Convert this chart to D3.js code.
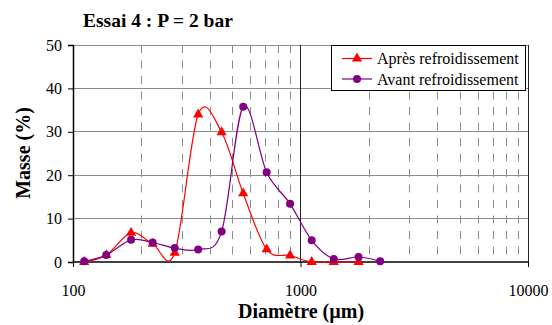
<!DOCTYPE html>
<html><head><meta charset="utf-8">
<script src="https://cdn.jsdelivr.net/npm/d3@7/dist/d3.min.js"></script>
<style>body{margin:0;background:#fff}svg{display:block}</style>
</head><body>
<svg id="c" width="552" height="325"></svg>
<script>
const title = "Essai 4 : P = 2 bar";
const xLabel = "Diamètre (µm)";
const yLabel = "Masse (%)";
const diameters = [112, 140, 180, 224, 280, 355, 450, 560, 710, 900, 1120, 1400, 1800, 2240];
const apres = [0, 1.6, 6.7, 4.2, 2.1, 34.0, 29.9, 15.8, 2.9, 1.5, 0, 0, 0];
const avant = [0.15, 1.6, 5.1, 4.5, 3.2, 2.9, 7.0, 35.8, 20.7, 13.4, 5.0, 0.7, 1.15, 0.15];
const seriesNames = ["Après refroidissement", "Avant refroidissement"];
const xTicks = [100, 1000, 10000];
const yTicks = [0, 10, 20, 30, 40, 50];
const minorX = [200,300,400,500,600,700,800,900,2000,3000,4000,5000,6000,7000,8000,9000];

const svg = d3.select("#c");
const font = "'Liberation Serif','Times New Roman',serif";
const x = d3.scaleLog().domain([100, 10000]).range([73, 528]);
const y = d3.scaleLinear().domain([0, 50]).range([262, 45]);

// horizontal gridlines
svg.append("g").selectAll("line").data(yTicks.filter(d => d > 0)).join("line")
  .attr("x1", x(100)).attr("x2", x(10000))
  .attr("y1", d => y(d)).attr("y2", d => y(d))
  .attr("stroke", "#8c8c8c").attr("stroke-width", 1).attr("shape-rendering", "crispEdges");
// minor vertical dashed
svg.append("g").selectAll("line").data(minorX).join("line")
  .attr("x1", d => Math.round(x(d)) + 0.5).attr("x2", d => Math.round(x(d)) + 0.5)
  .attr("y1", y(50)).attr("y2", y(0))
  .attr("stroke", "#8c8c8c").attr("stroke-width", 1).attr("stroke-dasharray", "8,7.5");
// major vertical
svg.append("g").selectAll("line").data(xTicks.filter(d => d > 100)).join("line")
  .attr("x1", d => Math.round(x(d)) + 0.5).attr("x2", d => Math.round(x(d)) + 0.5)
  .attr("y1", y(50)).attr("y2", y(0))
  .attr("stroke", "#222").attr("stroke-width", 1);

// axes
const xAxis = svg.append("g").attr("transform", `translate(0,${y(0)})`)
  .call(d3.axisBottom(x).tickValues(xTicks).tickFormat(d3.format("d")).tickSize(5).tickPadding(18));
const yAxis = svg.append("g").attr("transform", `translate(${x(100)},0)`)
  .call(d3.axisLeft(y).tickValues(yTicks).tickSize(5).tickPadding(6));
[xAxis, yAxis].forEach(a => {
  a.select(".domain").attr("stroke", "#000").attr("stroke-width", 1.5);
  a.selectAll(".tick line").attr("stroke", "#000");
  a.selectAll("text").attr("font-family", font).attr("font-size", 16).attr("fill", "#000");
});
xAxis.select(".domain").attr("d", `M${x(100)},0H${x(10000)}`);

// series
const curve = d3.curveCardinal.tension(0);
const ptsA = apres.map((v, i) => [diameters[i], v]);
const ptsV = avant.map((v, i) => [diameters[i], v]);
const line = d3.line().x(d => x(d[0])).y(d => y(d[1])).curve(curve);
svg.append("path").attr("d", line(ptsA)).attr("fill", "none").attr("stroke", "#ff0000").attr("stroke-width", 1.2);
svg.append("path").attr("d", line(ptsV)).attr("fill", "none").attr("stroke", "#800080").attr("stroke-width", 1.2);
const tri = d3.symbol().type(d3.symbolTriangle).size(45);
svg.append("g").selectAll("path").data(ptsA).join("path")
  .attr("d", tri).attr("transform", d => `translate(${x(d[0])},${y(d[1])})`).attr("fill", "#ff0000");
svg.append("g").selectAll("circle").data(ptsV).join("circle")
  .attr("cx", d => x(d[0])).attr("cy", d => y(d[1])).attr("r", 4).attr("fill", "#800080");

// legend
const lg = svg.append("g");
lg.append("rect").attr("x", 331.5).attr("y", 45.5).attr("width", 194).attr("height", 45)
  .attr("fill", "#fff").attr("stroke", "#000").attr("stroke-width", 1);
const colors = ["#ff0000", "#800080"];
seriesNames.forEach((n, i) => {
  const yy = 58.5 + i * 20.5;
  lg.append("line").attr("x1", 342).attr("x2", 372).attr("y1", yy).attr("y2", yy).attr("stroke", colors[i]).attr("stroke-width", 1.2);
  if (i === 0) lg.append("path").attr("d", tri).attr("transform", `translate(357,${yy})`).attr("fill", colors[i]);
  else lg.append("circle").attr("cx", 357).attr("cy", yy).attr("r", 4).attr("fill", colors[i]);
  lg.append("text").attr("x", 377).attr("y", yy + 5.5).text(n)
    .attr("font-family", font).attr("font-size", 16).attr("fill", "#000");
});

// titles
svg.append("text").attr("x", 83).attr("y", 27).text(title)
  .attr("font-family", font).attr("font-size", 19.5).attr("font-weight", "bold");
svg.append("text").attr("x", 301).attr("y", 318).attr("text-anchor", "middle").text(xLabel)
  .attr("font-family", font).attr("font-size", 20).attr("font-weight", "bold");
svg.append("text").attr("transform", "translate(30,153) rotate(-90)").attr("text-anchor", "middle").text(yLabel)
  .attr("font-family", font).attr("font-size", 20).attr("font-weight", "bold");
</script>
</body></html>
